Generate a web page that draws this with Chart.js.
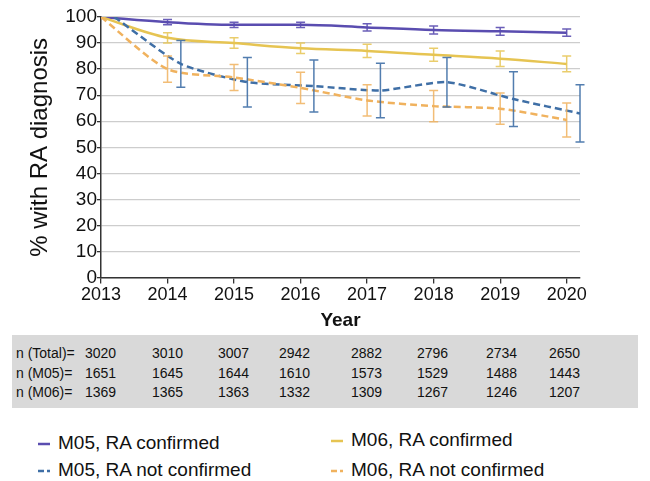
<!DOCTYPE html>
<html>
<head>
<meta charset="utf-8">
<script src="https://cdn.jsdelivr.net/npm/chart.js@4/dist/chart.umd.min.js"></script>
<style>
  body { margin: 0; background: #fff; font-family: "Liberation Sans", Arial, sans-serif; }
  #wrap { position: relative; width: 650px; height: 481px; overflow: hidden; }
  #chartBox { position: absolute; left: 0; top: 0; width: 650px; height: 336px; }
  #nTable { position: absolute; left: 12px; top: 335px; width: 626px; height: 73px; background: #d9d9d9; font-size: 14px; color: #111; }
  #nTable .cell { position: absolute; white-space: nowrap; line-height: 16px; }
  .leg { position: absolute; font-size: 19px; color: #111; white-space: nowrap; line-height: 22px; }
  .leg svg { position: absolute; top: 10px; }
</style>
</head>
<body>
<div id="wrap">
  <div id="chartBox"><canvas id="raChart"></canvas></div>
  <div id="nTable"></div>
  <div id="legend"></div>
</div>
<script>
// Datos
const years = [2013, 2014, 2015, 2016, 2017, 2018, 2019, 2020];

const m05Confirmed = [100, 98, 97, 97, 96, 95, 94.5, 94];
const m05ConfirmedErr = [0, 1, 1, 1, 1.4, 1.5, 1.5, 1.4];

const m06Confirmed = [100, 92, 90, 88, 87, 85.5, 84, 82];
const m06ConfirmedErr = [0, 2, 2, 2, 2.5, 2.5, 3, 3];

const m05NotConfirmed = [100, 82, 75, 73.5, 71.8, 75, 68.5, 63];
const m05NotConfirmedErr = [0, 9, 9.5, 10, 10.5, 9.5, 10.5, 11];

const m06NotConfirmed = [100, 80, 76.8, 72.8, 68, 65.8, 64.8, 60.5];
const m06NotConfirmedErr = [0, 5, 5, 6, 6, 6, 6, 6.5];

// M05 "not confirmed" is drawn slightly to the right of each year
const m05NotShift = 0.2;

const nTotal = [3020, 3010, 3007, 2942, 2882, 2796, 2734, 2650];
const nM05 = [1651, 1645, 1644, 1610, 1573, 1529, 1488, 1443];
const nM06 = [1369, 1365, 1363, 1332, 1309, 1267, 1246, 1207];

const seriesNames = ['M05, RA confirmed', 'M06, RA confirmed', 'M05, RA not confirmed', 'M06, RA not confirmed'];

const colPurple = '#5a4db0';
const colYellow = '#e6c452';
const colBlue = '#3f6fa6';
const colOrange = '#f0b25e';

function points(vals, shift) {
    return vals.map((v, i) => ({ x: years[i] + shift, y: v }));
}

// Barras de error
const errorBars = {
    id: 'errorBars',
    afterDatasetsDraw(chart) {
        const ctx = chart.ctx;
        const x = chart.scales.x, y = chart.scales.y;
        chart.data.datasets.forEach(ds => {
            if (!ds.errors) return;
            ctx.save();
            ctx.strokeStyle = ds.errorColor;
            ctx.lineWidth = 1.5;
            ctx.setLineDash([]);
            ds.data.forEach((pt, i) => {
                const e = ds.errors[i];
                if (!e) return;
                const px = x.getPixelForValue(pt.x);
                const top = y.getPixelForValue(pt.y + e);
                const bot = y.getPixelForValue(pt.y - e);
                ctx.beginPath();
                ctx.moveTo(px, top); ctx.lineTo(px, bot);
                ctx.moveTo(px - 4.5, top); ctx.lineTo(px + 4.5, top);
                ctx.moveTo(px - 4.5, bot); ctx.lineTo(px + 4.5, bot);
                ctx.stroke();
            });
            ctx.restore();
        });
    }
};

const FONT = '"Liberation Sans", Arial, sans-serif';
const leftPad = 22;

const raChart = new Chart(document.getElementById('raChart').getContext('2d'), {
    type: 'line',
    data: {
        datasets: [
            {
                label: seriesNames[3],
                data: points(m06NotConfirmed, 0),
                errors: m06NotConfirmedErr,
                errorColor: 'rgba(240,178,94,0.85)',
                borderColor: colOrange,
                borderWidth: 2.5,
                borderDash: [7, 4],
                tension: 0.25,
                pointRadius: 0
            },
            {
                label: seriesNames[2],
                data: points(m05NotConfirmed, m05NotShift),
                errors: m05NotConfirmedErr,
                errorColor: 'rgba(63,111,166,0.9)',
                borderColor: colBlue,
                borderWidth: 2.5,
                borderDash: [7, 4],
                tension: 0.2,
                pointRadius: 0
            },
            {
                label: seriesNames[1],
                data: points(m06Confirmed, 0),
                errors: m06ConfirmedErr,
                errorColor: 'rgba(230,196,82,0.85)',
                borderColor: colYellow,
                borderWidth: 2.5,
                cubicInterpolationMode: 'monotone',
                pointRadius: 0
            },
            {
                label: seriesNames[0],
                data: points(m05Confirmed, 0),
                errors: m05ConfirmedErr,
                errorColor: 'rgba(90,77,176,0.9)',
                borderColor: colPurple,
                borderWidth: 2.5,
                cubicInterpolationMode: 'monotone',
                pointRadius: 0
            }
        ]
    },
    options: {
        responsive: true,
        maintainAspectRatio: false,
        animation: false,
        layout: { padding: { left: leftPad, right: 70, top: 17, bottom: 0 } },
        plugins: {
            legend: { display: false },
            tooltip: { enabled: false }
        },
        scales: {
            x: {
                type: 'linear',
                min: 2013,
                max: 2020 + m05NotShift,
                afterBuildTicks: s => { s.ticks = years.map(v => ({ value: v })); },
                ticks: {
                    callback: v => String(v),
                    font: { family: FONT, size: 18 },
                    color: '#111',
                    padding: 1,
                    maxRotation: 0,
                    autoSkip: false
                },
                grid: { drawOnChartArea: false, drawTicks: true, tickLength: 6, color: '#333', lineWidth: 1.3 },
                border: { color: '#333', width: 1.5 },
                title: {
                    display: true,
                    text: 'Year',
                    font: { family: FONT, size: 19, weight: 'bold' },
                    color: '#111',
                    padding: { top: 2, bottom: 4 }
                }
            },
            y: {
                min: 0,
                max: 100,
                ticks: {
                    stepSize: 5,
                    callback: v => (v % 10 === 0 ? v : ''),
                    font: { family: FONT, size: 19 },
                    color: '#111',
                    padding: 0
                },
                grid: {
                    color: c => (c.tick && c.tick.value % 10 !== 0 ? '#e8e8e8' : '#cdcdcd'),
                    lineWidth: 1.3,
                    tickColor: '#333',
                    tickLength: 4
                },
                border: { color: '#333', width: 1.5 },
                title: {
                    display: true,
                    text: '% with RA diagnosis',
                    font: { family: FONT, size: 24 },
                    color: '#111'
                },
                afterFit: s => { s.width = 101 - leftPad; }
            }
        }
    },
    plugins: [errorBars]
});

// Tabla de n
const tableRows = [['n (Total)=', nTotal], ['n (M05)=', nM05], ['n (M06)=', nM06]];
const colLeft = [73, 140, 206, 267, 339, 405, 474, 537];
const rowTop = [10, 30, 49];
const tbl = document.getElementById('nTable');
tableRows.forEach((row, r) => {
    const lab = document.createElement('div');
    lab.className = 'cell';
    lab.style.left = '4px';
    lab.style.top = rowTop[r] + 'px';
    lab.textContent = row[0];
    tbl.appendChild(lab);
    row[1].forEach((v, i) => {
        const c = document.createElement('div');
        c.className = 'cell';
        c.style.left = colLeft[i] + 'px';
        c.style.top = rowTop[r] + 'px';
        c.textContent = v;
        tbl.appendChild(c);
    });
});

// Leyenda
const legendItems = [
    { name: seriesNames[0], color: colPurple, dashed: false, left: 38, top: 432 },
    { name: seriesNames[2], color: colBlue, dashed: true, left: 38, top: 459 },
    { name: seriesNames[1], color: colYellow, dashed: false, left: 331, top: 429 },
    { name: seriesNames[3], color: colOrange, dashed: true, left: 331, top: 459 }
];
const legend = document.getElementById('legend');
legendItems.forEach(it => {
    const d = document.createElement('div');
    d.className = 'leg';
    d.style.left = it.left + 'px';
    d.style.top = it.top + 'px';
    d.style.paddingLeft = '20px';
    const dash = it.dashed ? ' stroke-dasharray="6 3"' : '';
    d.innerHTML = '<svg width="12" height="4" style="left:0"><line x1="0" y1="2" x2="12" y2="2" stroke="' +
        it.color + '" stroke-width="2.5"' + dash + '/></svg>';
    d.appendChild(document.createTextNode(it.name));
    legend.appendChild(d);
});
</script>
</body>
</html>
